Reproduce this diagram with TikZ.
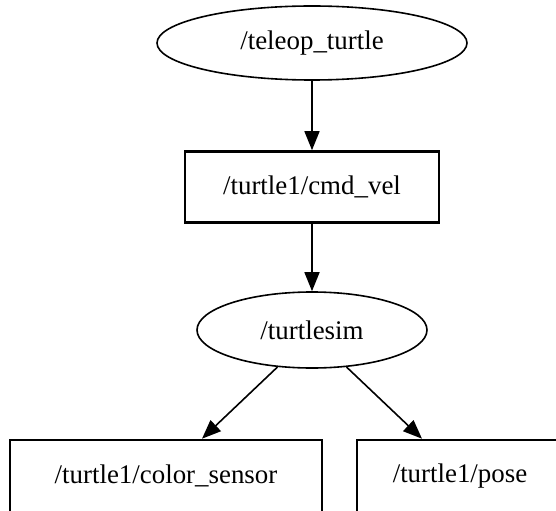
\documentclass[tikz,border=0pt]{standalone}
\usepackage{fontspec}
\setmainfont{Liberation Serif}
\usetikzlibrary{shapes.geometric,arrows.meta}
\begin{document}
\begin{tikzpicture}[x=1bp,y=-1bp,
  every node/.style={font=\fontsize{27}{30}\selectfont, inner sep=0pt},
  nodeell/.style={ellipse, draw, line width=1.6bp},
  topicbox/.style={rectangle, draw, line width=2.6bp},
  conn/.style={line width=1.6bp, -{Triangle[length=19bp,width=15bp]}}]
\useasboundingbox (0,0) rectangle (556,511);
\clip (0,0) rectangle (556,511);
\node[nodeell, minimum width=310bp, minimum height=74bp] (teleop) at (312,43) {/teleop\_turtle};
\node[topicbox, minimum width=254bp, minimum height=71bp] (cmdvel) at (312,187) {/turtle1/cmd\_vel};
\node[nodeell, minimum width=230bp, minimum height=76bp] (turtlesim) at (312,330) {/turtlesim};
\node[topicbox, minimum width=312bp, minimum height=72bp] (color) at (166,476) {/turtle1/color\_sensor};
\node[topicbox, minimum width=206bp, minimum height=72bp] (pose) at (460,476) {/turtle1/pose};
\draw[conn] (teleop.south) -- (cmdvel.north);
\draw[conn] (cmdvel.south) -- (turtlesim.north);
\draw[conn] (turtlesim.227) -- ([xshift=36bp]color.north);
\draw[conn] (turtlesim.313) -- ([xshift=-38bp]pose.north);
\end{tikzpicture}
\end{document}
